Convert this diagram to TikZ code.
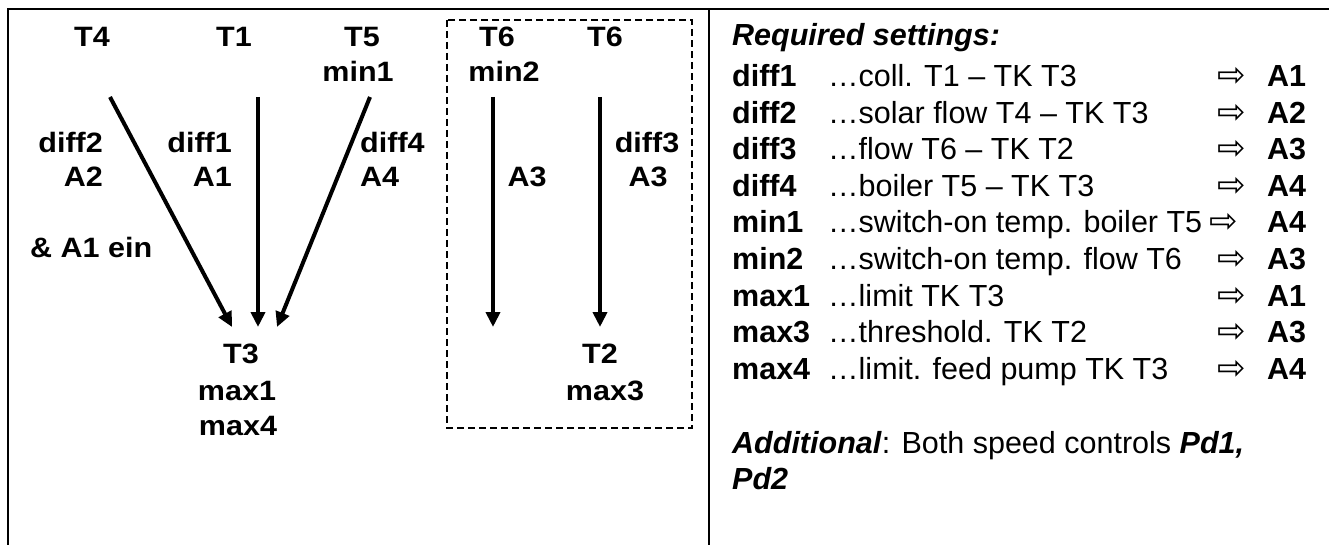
\documentclass[tikz,border=0pt]{standalone}
\usepackage{graphicx}
\usepackage{fontspec}
\setmainfont{Liberation Sans}
\newfontfamily\arrowfont{DejaVu Sans}
\usetikzlibrary{arrows.meta}
\newcommand\wx[1]{\scalebox{1.09}[1]{#1}}
\tikzset{
  lt/.style={font=\fontsize{28}{36}\selectfont\bfseries, inner sep=0pt, anchor=base},
  ltr/.style={lt, anchor=base east},
  ltl/.style={lt, anchor=base west},
  rt/.style={font=\fontsize{30.5}{36.5}\selectfont, inner sep=0pt, anchor=base west},
  arr/.style={font=\arrowfont\fontsize{34}{34}\selectfont, inner sep=0pt, anchor=base},
  flow/.style={line width=4pt, -{Triangle[length=15pt,width=14pt]}},
  frameline/.style={line width=2.2pt},
  groupbox/.style={line width=1.5pt, dash pattern=on 7pt off 4pt}
}
\begin{document}
\begin{tikzpicture}[x=1pt,y=-1pt]
\useasboundingbox (0,0) rectangle (1329,545);
% frame
\draw[frameline] (8,545) -- (8,9) -- (1329,9);
\draw[frameline] (709,9) -- (709,545);
% dashed group
\draw[groupbox] (447,20) rectangle (692,428);

% left sensors
\node[lt] (t4) at (92,47) {\wx{T4}};
\node[lt] (t1) at (234,47) {\wx{T1}};
\node[lt] (t5) at (362,47) {\wx{T5}};
\node[lt] (min1) at (358,82) {\wx{min1}};
\node[lt] (t6a) at (497,47) {\wx{T6}};
\node[lt] (min2) at (504,82) {\wx{min2}};
\node[lt] (t6b) at (605,47) {\wx{T6}};

% labels
\node[ltr] (diff2) at (103,153) {\wx{diff2}};
\node[ltr] (a2) at (103,187) {\wx{A2}};
\node[ltr] (diff1) at (232,153) {\wx{diff1}};
\node[ltr] (a1) at (232,187) {\wx{A1}};
\node[ltl] (diff4) at (360,153) {\wx{diff4}};
\node[ltl] (a4) at (360,187) {\wx{A4}};
\node[ltl] (ein) at (30,258) {\wx{\& A1 ein}};
\node[lt] (a3a) at (527,187) {\wx{A3}};
\node[lt] (diff3) at (647,153) {\wx{diff3}};
\node[lt] (a3b) at (648,187) {\wx{A3}};

% targets
\node[lt] (t3) at (241,363) {\wx{T3}};
\node[lt] (max1) at (237,400) {\wx{max1}};
\node[lt] (max4) at (238,435) {\wx{max4}};
\node[lt] (t2) at (600,363) {\wx{T2}};
\node[lt] (max3) at (605,400) {\wx{max3}};

% arrow ends
\coordinate (s4) at (110,97);  \coordinate (e4) at (232,327);
\coordinate (s1) at (258,97);  \coordinate (e1) at (258,327);
\coordinate (s5) at (370,97);  \coordinate (e5) at (277,327);
\coordinate (s6a) at (493,97); \coordinate (e6a) at (493,327);
\coordinate (s6b) at (600,97); \coordinate (e6b) at (600,327);
\draw[flow] (s4) -- (e4);
\draw[flow] (s1) -- (e1);
\draw[flow] (s5) -- (e5);
\draw[flow] (s6a) -- (e6a);
\draw[flow] (s6b) -- (e6b);

% right panel
\node[rt] (req) at (732,46) {\bfseries\itshape Required settings:};

\node[rt] (k1) at (732,87) {\bfseries diff1};
\node[rt] (d1) at (828,87) {…coll. T1 – TK T3};
\node[arr] (p1) at (1232,87) {⇨};
\node[rt] (o1) at (1267,87) {\bfseries A1};

\node[rt] (k2) at (732,123.5) {\bfseries diff2};
\node[rt] (d2) at (828,123.5) {…solar flow T4 – TK T3};
\node[arr] (p2) at (1232,123.5) {⇨};
\node[rt] (o2) at (1267,123.5) {\bfseries A2};

\node[rt] (k3) at (732,160) {\bfseries diff3};
\node[rt] (d3) at (828,160) {…flow T6 – TK T2};
\node[arr] (p3) at (1232,160) {⇨};
\node[rt] (o3) at (1267,160) {\bfseries A3};

\node[rt] (k4) at (732,196.5) {\bfseries diff4};
\node[rt] (d4) at (828,196.5) {…boiler T5 – TK T3};
\node[arr] (p4) at (1232,196.5) {⇨};
\node[rt] (o4) at (1267,196.5) {\bfseries A4};

\node[rt] (k5) at (732,233) {\bfseries min1};
\node[rt] (d5) at (828,233) {…switch-on temp. boiler T5};
\node[arr] (p5) at (1224,233) {⇨};
\node[rt] (o5) at (1267,233) {\bfseries A4};

\node[rt] (k6) at (732,269.5) {\bfseries min2};
\node[rt] (d6) at (828,269.5) {…switch-on temp. flow T6};
\node[arr] (p6) at (1232,269.5) {⇨};
\node[rt] (o6) at (1267,269.5) {\bfseries A3};

\node[rt] (k7) at (732,306) {\bfseries max1};
\node[rt] (d7) at (828,306) {…limit TK T3};
\node[arr] (p7) at (1232,306) {⇨};
\node[rt] (o7) at (1267,306) {\bfseries A1};

\node[rt] (k8) at (732,342.5) {\bfseries max3};
\node[rt] (d8) at (828,342.5) {…threshold. TK T2};
\node[arr] (p8) at (1232,342.5) {⇨};
\node[rt] (o8) at (1267,342.5) {\bfseries A3};

\node[rt] (k9) at (732,379) {\bfseries max4};
\node[rt] (d9) at (828,379) {…limit. feed pump TK T3};
\node[arr] (p9) at (1232,379) {⇨};
\node[rt] (o9) at (1267,379) {\bfseries A4};

\node[rt] (add) at (732,453) {\textbf{\textit{Additional}}: Both speed controls \textbf{\textit{Pd1,}}};
\node[rt] (pd2) at (732,489) {\textbf{\textit{Pd2}}};
\end{tikzpicture}
\end{document}
